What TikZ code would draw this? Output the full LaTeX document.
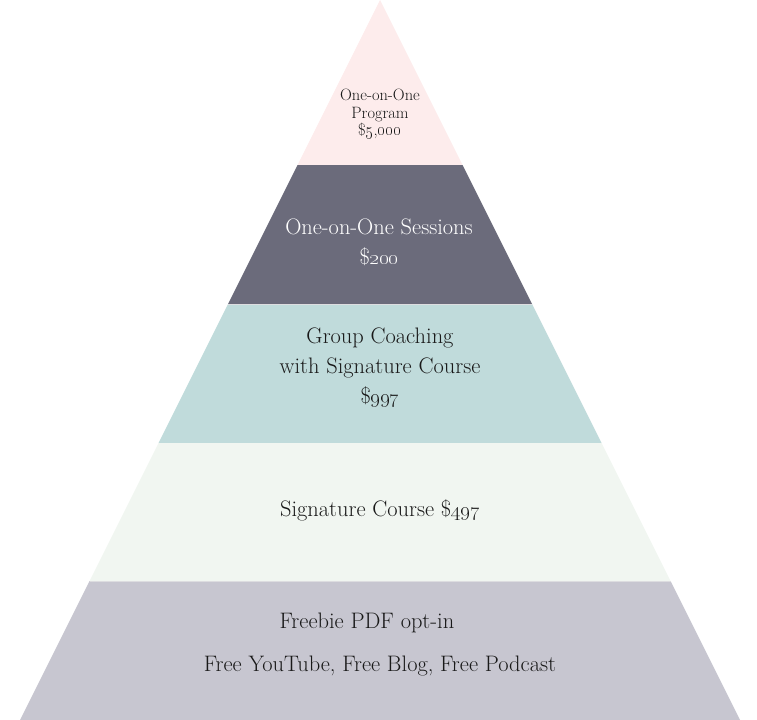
\documentclass[tikz,border=0pt]{standalone}
\definecolor{lvlA}{HTML}{FDECEC}
\definecolor{lvlB}{HTML}{6B6B7B}
\definecolor{lvlC}{HTML}{C0DBDB}
\definecolor{lvlD}{HTML}{F1F6F1}
\definecolor{lvlE}{HTML}{C7C6D0}
\definecolor{sep}{HTML}{DDDDE0}
\newcommand{\osn}[1]{\oldstylenums{#1}}
\begin{document}
\begin{tikzpicture}[x=1bp,y=-1bp,
  lbl/.style={align=center,text=black!90,inner sep=0pt,font=\fontsize{22.5}{30}\selectfont},
  small/.style={align=center,text=black!90,inner sep=0pt,font=\fontsize{16.5}{17.5}\selectfont}]
\useasboundingbox (0,0) rectangle (757,720);
% layers: half-width = y/2, apex at (380,0)
\fill[lvlA] (380,0) -- (462.5,165) -- (297.5,165) -- cycle;
\fill[lvlB] (297.5,165) -- (462.5,165) -- (532,304) -- (228,304) -- cycle;
\fill[lvlC] (228,304) -- (532,304) -- (601.5,443) -- (158.5,443) -- cycle;
\fill[lvlD] (158.5,443) -- (601.5,443) -- (670.5,581) -- (89.5,581) -- cycle;
\fill[lvlE] (89.5,581) -- (670.5,581) -- (740,720) -- (20,720) -- cycle;
\draw[sep,line width=0.8bp] (228,304) -- (532,304);
\draw[sep,line width=0.8bp] (89.5,581) -- (670.5,581);
% texts
\node[small] (t1) at (380,114) {One-on-One\\Program\\\$\osn{5},\osn{000}};
\node[lbl,text=white] (t2) at (379,242) {One-on-One Sessions\\\$\osn{200}};
\node[lbl] (t3) at (380,368) {Group Coaching\\with Signature Course\\\$\osn{997}};
\node[lbl] (t4) at (380,510) {Signature Course \$\osn{497}};
\node[lbl] (t5a) at (367,623) {Freebie PDF opt-in};
\node[lbl] (t5b) at (380,666) {Free YouTube, Free Blog, Free Podcast};
\end{tikzpicture}
\end{document}
